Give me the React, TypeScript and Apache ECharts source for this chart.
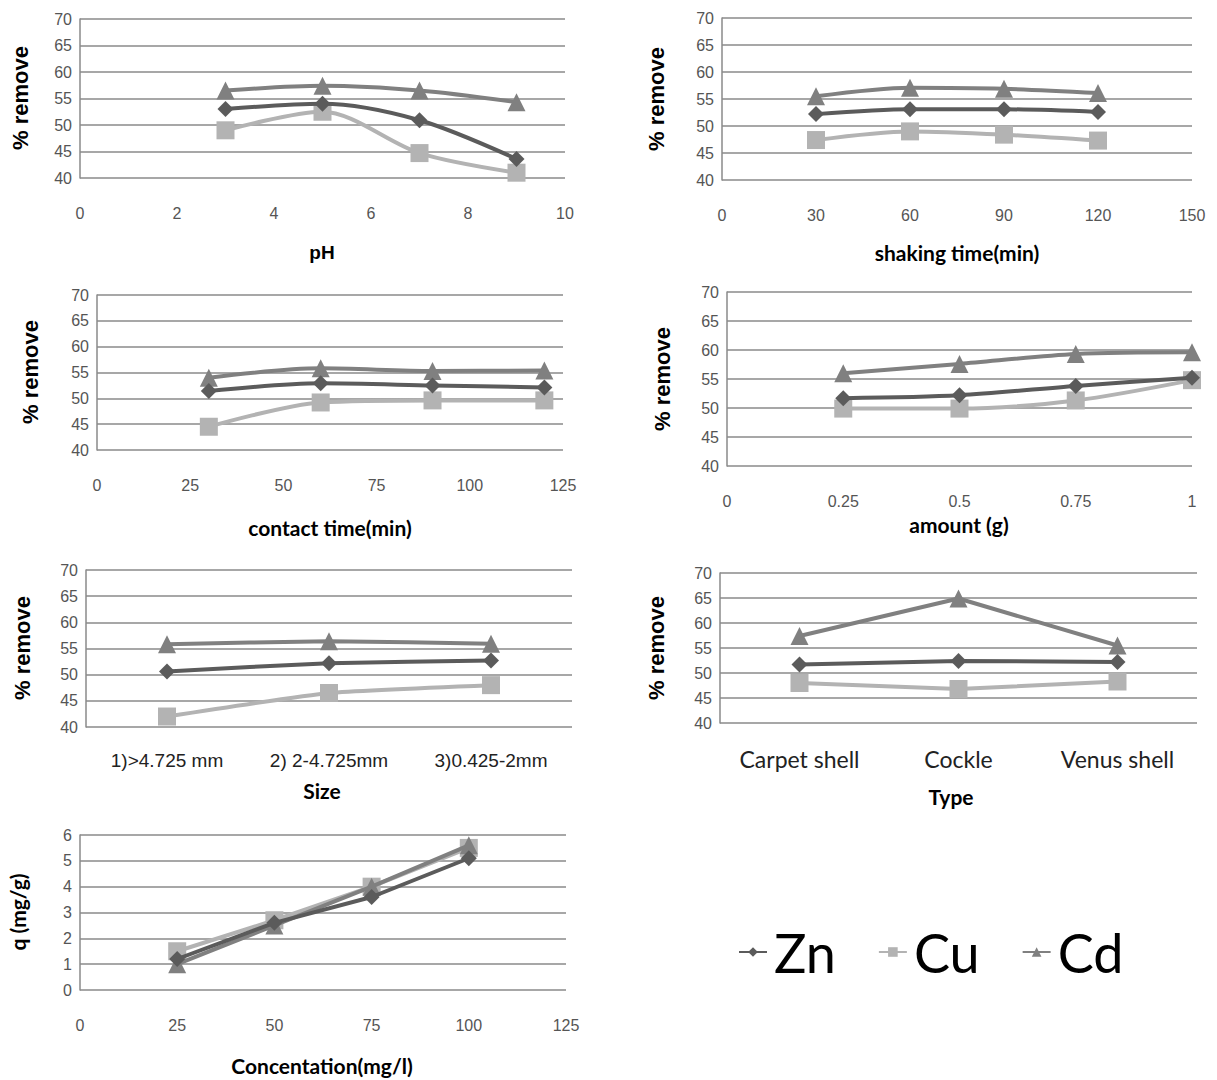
import React, { useEffect, useRef } from "react";
import * as echarts from "echarts";

const PH_X = [3, 5, 7, 9];
const PH_ZN = [53, 54, 50.9, 43.6];
const PH_CU = [49, 52.5, 44.7, 41];
const PH_CD = [56.5, 57.4, 56.5, 54.3];

const SHAKE_X = [30, 60, 90, 120];
const SHAKE_ZN = [52.2, 53.1, 53.1, 52.6];
const SHAKE_CU = [47.4, 49, 48.4, 47.3];
const SHAKE_CD = [55.5, 57.1, 56.9, 56.1];

const CONTACT_X = [30, 60, 90, 120];
const CONTACT_ZN = [51.4, 52.9, 52.5, 52.1];
const CONTACT_CU = [44.5, 49.2, 49.6, 49.6];
const CONTACT_CD = [54, 55.8, 55.3, 55.4];

const AMOUNT_X = [0.25, 0.5, 0.75, 1];
const AMOUNT_ZN = [51.7, 52.2, 53.8, 55.2];
const AMOUNT_CU = [49.9, 49.9, 51.3, 54.8];
const AMOUNT_CD = [56, 57.6, 59.3, 59.6];

const SIZE_CATS = ["1)>4.725 mm", "2) 2-4.725mm", "3)0.425-2mm"];
const SIZE_ZN = [50.6, 52.2, 52.7];
const SIZE_CU = [42, 46.5, 48];
const SIZE_CD = [55.8, 56.4, 55.9];

const TYPE_CATS = ["Carpet shell", "Cockle", "Venus shell"];
const TYPE_ZN = [51.7, 52.4, 52.2];
const TYPE_CU = [48, 46.8, 48.3];
const TYPE_CD = [57.4, 64.9, 55.5];

const CONC_X = [25, 50, 75, 100];
const CONC_ZN = [1.2, 2.6, 3.6, 5.1];
const CONC_CU = [1.5, 2.7, 4.0, 5.5];
const CONC_CD = [1.0, 2.5, 4.0, 5.6];

const COL_ZN = "#5b5b5b";
const COL_CU = "#b3b3b3";
const COL_CD = "#808080";
const GRID_COL = "#8a8a8a";
const TICK_FONT = "'Liberation Sans Narrow', 'Liberation Sans', Arial, sans-serif";
const TITLE_FONT = "Lato, 'Open Sans', sans-serif";
const ARIAL = "'Liberation Sans', Arial, sans-serif";

const pair = (xs: number[], ys: number[]) => xs.map((x, i) => [x, ys[i]]);

export default function App() {
  const ref = useRef<HTMLDivElement>(null);
  useEffect(() => {
    document.body.style.margin = "0";
    if (!ref.current) return;
    const chart = echarts.init(ref.current, null, { renderer: "svg" });

    const grids = [
      { left: 80, top: 19, width: 485, height: 159 },
      { left: 722, top: 18, width: 470, height: 162 },
      { left: 97, top: 295, width: 466, height: 155 },
      { left: 727, top: 292, width: 465, height: 174 },
      { left: 86, top: 570, width: 486, height: 157 },
      { left: 720, top: 573, width: 477, height: 150 },
      { left: 80, top: 835, width: 486, height: 155 },
    ];

    const valX = (gi: number, max: number, interval: number) => ({
      type: "value",
      gridIndex: gi,
      min: 0,
      max,
      interval,
      axisLine: { show: false },
      axisTick: { show: false },
      splitLine: { show: false },
      axisLabel: { color: "#555", fontFamily: TICK_FONT, fontSize: 16, margin: 27 },
    });
    const catX = (gi: number, cats: string[], fontSize: number, color: string, font: string) => ({
      type: "category",
      gridIndex: gi,
      data: cats,
      boundaryGap: true,
      axisLine: { show: false },
      axisTick: { show: false },
      splitLine: { show: false },
      axisLabel: { color, fontFamily: font, fontSize, margin: 24, interval: 0 },
    });
    const valY = (gi: number, min: number, max: number, interval: number) => ({
      type: "value",
      gridIndex: gi,
      min,
      max,
      interval,
      axisLine: { show: true, lineStyle: { color: GRID_COL, width: 1.5 } },
      axisTick: { show: false },
      splitLine: { show: true, lineStyle: { color: GRID_COL, width: 1.5 } },
      axisLabel: { color: "#555", fontFamily: TICK_FONT, fontSize: 16, margin: 8 },
    });

    const mk = (name: string, gi: number, data: any[], smooth: any) => {
      const col = name === "Zn" ? COL_ZN : name === "Cu" ? COL_CU : COL_CD;
      const symbol = name === "Zn" ? "diamond" : name === "Cu" ? "rect" : "triangle";
      const size = name === "Zn" ? 16 : 18;
      return {
        type: "line",
        name,
        xAxisIndex: gi,
        yAxisIndex: gi,
        data,
        smooth,
        symbol,
        symbolSize: size,
        showAllSymbol: true,
        lineStyle: { color: col, width: 4 },
        itemStyle: { color: col },
        z: name === "Cd" ? 3 : name === "Zn" ? 4 : 2,
      };
    };

    const series: any[] = [];
    const panels: Array<[number, any[], any[], any[], any]> = [
      [0, pair(PH_X, PH_ZN), pair(PH_X, PH_CU), pair(PH_X, PH_CD), 0.3],
      [1, pair(SHAKE_X, SHAKE_ZN), pair(SHAKE_X, SHAKE_CU), pair(SHAKE_X, SHAKE_CD), 0.3],
      [2, pair(CONTACT_X, CONTACT_ZN), pair(CONTACT_X, CONTACT_CU), pair(CONTACT_X, CONTACT_CD), 0.3],
      [3, pair(AMOUNT_X, AMOUNT_ZN), pair(AMOUNT_X, AMOUNT_CU), pair(AMOUNT_X, AMOUNT_CD), 0.3],
      [4, SIZE_ZN, SIZE_CU, SIZE_CD, 0.15],
      [5, TYPE_ZN, TYPE_CU, TYPE_CD, false],
      [6, pair(CONC_X, CONC_ZN), pair(CONC_X, CONC_CU), pair(CONC_X, CONC_CD), false],
    ];
    panels.forEach(([gi, zn, cu, cd, sm]) => {
      series.push(mk("Cu", gi, cu, sm));
      series.push(mk("Zn", gi, zn, sm));
      series.push(mk("Cd", gi, cd, sm));
    });

    const yTitle = (text: string, x: number, y: number, font: string, size: number) => ({
      type: "text",
      x,
      y,
      rotation: Math.PI / 2,
      style: {
        text,
        fill: "#000",
        font: `bold ${size}px ${font}`,
        textAlign: "center",
        textVerticalAlign: "middle",
      },
    });
    const xTitle = (text: string, x: number, y: number, font: string, size: number) => ({
      type: "text",
      x,
      y,
      style: {
        text,
        fill: "#000",
        font: `bold ${size}px ${font}`,
        textAlign: "center",
        textVerticalAlign: "middle",
      },
    });

    chart.setOption({
      animation: false,
      backgroundColor: "#fff",
      grid: grids.map((g) => ({ ...g, containLabel: false })),
      xAxis: [
        valX(0, 10, 2),
        valX(1, 150, 30),
        valX(2, 125, 25),
        valX(3, 1, 0.25),
        catX(4, SIZE_CATS, 19, "#222", ARIAL),
        catX(5, TYPE_CATS, 23, "#222", TITLE_FONT),
        valX(6, 125, 25),
      ],
      yAxis: [
        valY(0, 40, 70, 5),
        valY(1, 40, 70, 5),
        valY(2, 40, 70, 5),
        valY(3, 40, 70, 5),
        valY(4, 40, 70, 5),
        valY(5, 40, 70, 5),
        valY(6, 0, 6, 1),
      ],
      legend: {
        data: ["Zn", "Cu", "Cd"],
        left: 733,
        top: 920,
        itemWidth: 28,
        itemHeight: 12,
        itemGap: 42,
        textStyle: { fontSize: 54, fontFamily: TITLE_FONT, color: "#000", padding: [0, 0, 0, 2] },
      },
      graphic: [
        yTitle("% remove", 20, 98, ARIAL, 22),
        yTitle("% remove", 656, 99, ARIAL, 22),
        yTitle("% remove", 30, 372, ARIAL, 22),
        yTitle("% remove", 662, 379, ARIAL, 22),
        yTitle("% remove", 22, 648, ARIAL, 22),
        yTitle("% remove", 656, 648, ARIAL, 22),
        yTitle("q (mg/g)", 17, 912, TITLE_FONT, 21),
        xTitle("pH", 322, 252, ARIAL, 19),
        xTitle("shaking time(min)", 957, 252, TITLE_FONT, 21),
        xTitle("contact time(min)", 330, 527, TITLE_FONT, 21),
        xTitle("amount (g)", 959, 524, TITLE_FONT, 21),
        xTitle("Size", 322, 790, TITLE_FONT, 21),
        xTitle("Type", 951, 796, TITLE_FONT, 21),
        xTitle("Concentation(mg/l)", 322, 1065, TITLE_FONT, 21),
      ],
      series,
    });
    return () => chart.dispose();
  }, []);
  return <div ref={ref} style={{ width: 1217, height: 1080 }} />;
}
